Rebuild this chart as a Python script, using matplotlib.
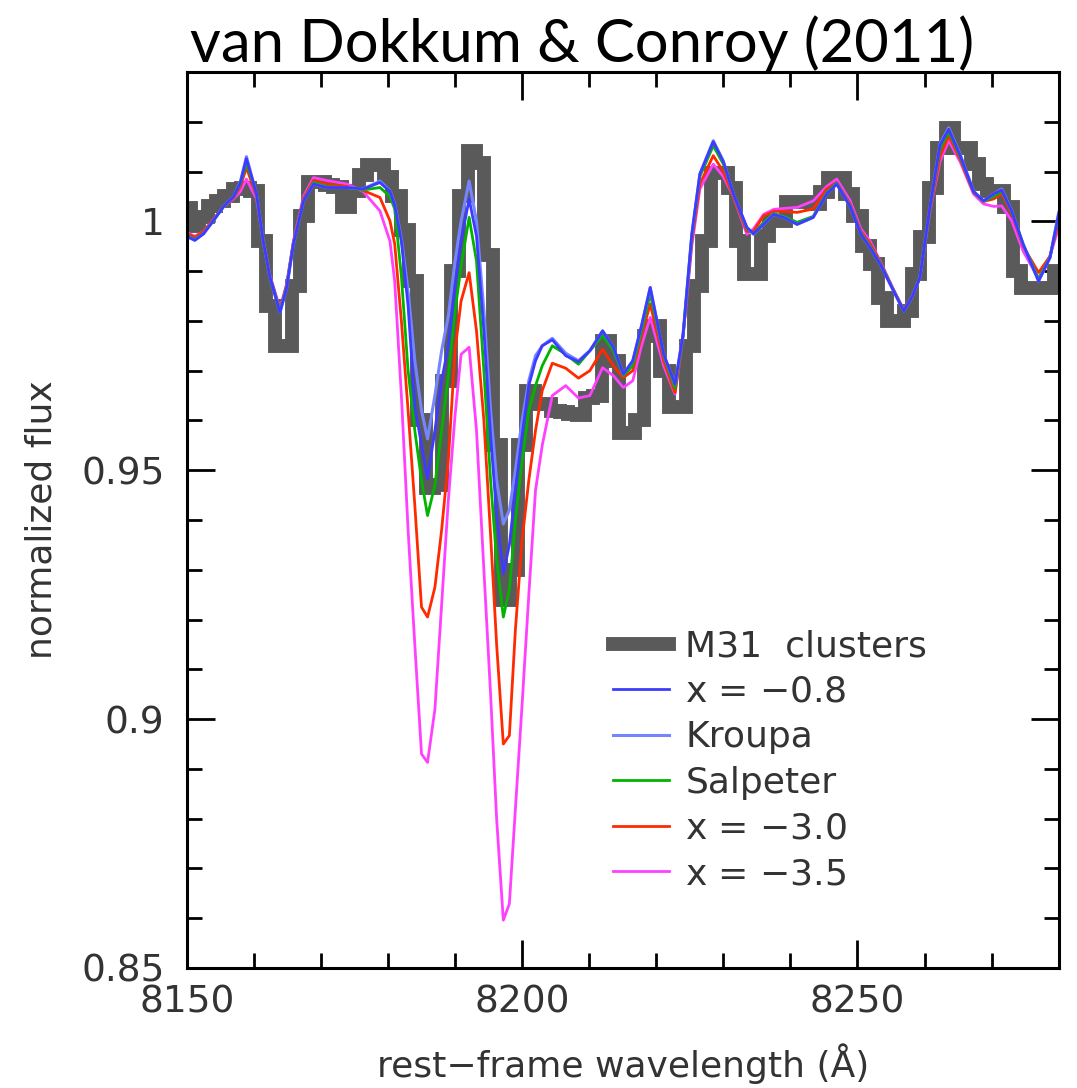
import numpy as np
import matplotlib
matplotlib.use("Agg")
import matplotlib.pyplot as plt
from matplotlib.ticker import MultipleLocator, FuncFormatter

plt.rcParams['font.family'] = ['DejaVu Sans']

# M31 globular cluster spectrum, 1.25 A bins
wave_obs = 8150.0 + 1.25 * np.arange(105)
flux_obs = [
    1.0026, 0.9990, 1.0008, 1.0030, 1.0040, 1.0050, 1.0065, 1.0068, 1.0060, 0.9960,
    0.9830, 0.9750, 0.9750, 0.9870, 1.0010, 1.0080, 1.0080, 1.0073, 1.0070, 1.0028,
    1.0060, 1.0093, 1.0113, 1.0113, 1.0090, 1.0050, 0.9983, 0.9880, 0.9600, 0.9465,
    0.9470, 0.9680, 0.9900, 1.0050, 1.0141, 1.0117, 0.9933, 0.9550, 0.9240, 0.9300,
    0.9550, 0.9660, 0.9633, 0.9633, 0.9620, 0.9616, 0.9613, 0.9610, 0.9646, 0.9650,
    0.9760, 0.9720, 0.9574, 0.9574, 0.9600, 0.9770, 0.9790, 0.9700, 0.9627, 0.9627,
    0.9750, 0.9870, 0.9960, 1.0097, 1.0097, 1.0068, 0.9960, 0.9894, 0.9894, 0.9970,
    1.0001, 1.0001, 1.0038, 1.0038, 1.0038, 1.0035, 1.0058, 1.0088, 1.0088, 1.0055,
    1.0010, 0.9950, 0.9914, 0.9847, 0.9800, 0.9800, 0.9820, 0.9895, 0.9968, 1.0068,
    1.0147, 1.0188, 1.0148, 1.0148, 1.0115, 1.0075, 1.0061, 1.0061, 1.0028, 0.9900,
    0.9866, 0.9866, 0.9866, 0.9866, 0.9900,
]

# model spectra for different IMF slopes
wave_mod = [
    8150.0, 8151.2, 8152.5, 8154.0, 8155.5, 8157.0, 8158.0, 8158.9, 8160.4, 8161.4,
    8162.4, 8163.9, 8164.9, 8165.9, 8167.4, 8168.9, 8170.9, 8173.9, 8176.3, 8178.8,
    8180.3, 8181.0, 8182.0, 8183.0, 8184.0, 8185.0, 8185.9, 8187.0, 8188.0, 8189.0,
    8190.0, 8190.9, 8192.1, 8193.2, 8194.3, 8195.3, 8196.2, 8197.2, 8198.1, 8199.0,
    8200.0, 8201.0, 8202.0, 8203.0, 8204.5, 8206.5, 8208.4, 8210.1, 8212.0, 8213.6,
    8215.1, 8216.5, 8217.8, 8219.1, 8221.1, 8222.8, 8224.0, 8225.3, 8226.5, 8228.5,
    8230.0, 8231.5, 8233.5, 8234.5, 8236.0, 8237.5, 8239.0, 8241.0, 8243.4, 8245.4,
    8246.9, 8248.9, 8250.5, 8251.9, 8253.4, 8255.2, 8256.9, 8258.2, 8259.3, 8260.8,
    8262.3, 8263.6, 8265.3, 8267.3, 8268.8, 8270.3, 8271.5, 8273.0, 8274.7, 8277.0,
    8278.7, 8280.0,
]
flux_kroupa = [
    0.9970, 0.9962, 0.9975, 1.0002, 1.0030, 1.0050, 1.0080, 1.0130, 1.0055, 0.9960,
    0.9888, 0.9817, 0.9867, 0.9954, 1.0041, 1.0075, 1.0068, 1.0068, 1.0065, 1.0081,
    1.0061, 1.0035, 0.9965, 0.9860, 0.9720, 0.9620, 0.9563, 0.9650, 0.9740, 0.9810,
    0.9920, 1.0000, 1.0081, 1.0000, 0.9820, 0.9620, 0.9480, 0.9392, 0.9420, 0.9500,
    0.9600, 0.9680, 0.9730, 0.9750, 0.9765, 0.9735, 0.9720, 0.9740, 0.9780, 0.9747,
    0.9693, 0.9720, 0.9790, 0.9867, 0.9733, 0.9673, 0.9773, 0.9974, 1.0095, 1.0162,
    1.0121, 1.0055, 0.9988, 0.9974, 0.9994, 1.0014, 1.0008, 0.9994, 1.0008, 1.0055,
    1.0075, 1.0030, 0.9975, 0.9947, 0.9914, 0.9865, 0.9820, 0.9850, 0.9887, 1.0028,
    1.0155, 1.0188, 1.0135, 1.0061, 1.0041, 1.0055, 1.0065, 1.0021, 0.9954, 0.9880,
    0.9927, 1.0018,
]
flux_m08 = [
    0.9970, 0.9962, 0.9975, 1.0002, 1.0030, 1.0050, 1.0078, 1.0126, 1.0055, 0.9960,
    0.9888, 0.9817, 0.9867, 0.9954, 1.0041, 1.0075, 1.0068, 1.0068, 1.0065, 1.0078,
    1.0060, 1.0033, 0.9960, 0.9830, 0.9630, 0.9550, 0.9482, 0.9580, 0.9680, 0.9750,
    0.9870, 0.9960, 1.0045, 0.9970, 0.9780, 0.9570, 0.9410, 0.9292, 0.9350, 0.9460,
    0.9570, 0.9670, 0.9720, 0.9750, 0.9762, 0.9730, 0.9718, 0.9740, 0.9780, 0.9747,
    0.9693, 0.9720, 0.9790, 0.9867, 0.9733, 0.9673, 0.9773, 0.9974, 1.0095, 1.0160,
    1.0120, 1.0055, 0.9988, 0.9975, 0.9994, 1.0014, 1.0008, 0.9994, 1.0008, 1.0055,
    1.0075, 1.0030, 0.9975, 0.9947, 0.9914, 0.9865, 0.9820, 0.9850, 0.9887, 1.0028,
    1.0153, 1.0185, 1.0133, 1.0060, 1.0041, 1.0055, 1.0063, 1.0020, 0.9954, 0.9880,
    0.9927, 1.0015,
]
flux_salp = [
    0.9972, 0.9964, 0.9976, 1.0002, 1.0030, 1.0049, 1.0076, 1.0118, 1.0055, 0.9960,
    0.9888, 0.9820, 0.9870, 0.9955, 1.0042, 1.0078, 1.0070, 1.0068, 1.0063, 1.0068,
    1.0050, 1.0025, 0.9890, 0.9700, 0.9580, 0.9480, 0.9409, 0.9470, 0.9580, 0.9690,
    0.9820, 0.9910, 1.0008, 0.9920, 0.9700, 0.9480, 0.9320, 0.9205, 0.9260, 0.9400,
    0.9520, 0.9620, 0.9670, 0.9710, 0.9750, 0.9733, 0.9713, 0.9740, 0.9770, 0.9740,
    0.9690, 0.9710, 0.9780, 0.9854, 0.9730, 0.9665, 0.9770, 0.9970, 1.0090, 1.0152,
    1.0115, 1.0055, 0.9985, 0.9975, 0.9998, 1.0016, 1.0010, 0.9998, 1.0010, 1.0058,
    1.0077, 1.0032, 0.9977, 0.9950, 0.9916, 0.9866, 0.9820, 0.9850, 0.9887, 1.0026,
    1.0145, 1.0180, 1.0130, 1.0060, 1.0040, 1.0050, 1.0060, 1.0020, 0.9954, 0.9885,
    0.9928, 1.0012,
]
flux_x30 = [
    0.9976, 0.9968, 0.9980, 1.0004, 1.0030, 1.0047, 1.0070, 1.0108, 1.0050, 0.9960,
    0.9890, 0.9822, 0.9872, 0.9958, 1.0046, 1.0082, 1.0075, 1.0070, 1.0062, 1.0048,
    1.0001, 0.9955, 0.9800, 0.9620, 0.9430, 0.9225, 0.9205, 0.9265, 0.9380, 0.9520,
    0.9740, 0.9840, 0.9897, 0.9780, 0.9600, 0.9370, 0.9150, 0.8950, 0.8967, 0.9180,
    0.9360, 0.9480, 0.9580, 0.9660, 0.9715, 0.9705, 0.9685, 0.9700, 0.9743, 0.9710,
    0.9686, 0.9700, 0.9770, 0.9834, 0.9720, 0.9656, 0.9770, 0.9960, 1.0075, 1.0132,
    1.0100, 1.0050, 0.9980, 0.9980, 1.0011, 1.0020, 1.0020, 1.0018, 1.0025, 1.0065,
    1.0078, 1.0035, 0.9980, 0.9955, 0.9918, 0.9867, 0.9822, 0.9850, 0.9887, 1.0022,
    1.0130, 1.0172, 1.0125, 1.0058, 1.0040, 1.0045, 1.0055, 1.0015, 0.9950, 0.9897,
    0.9930, 1.0000,
]
flux_x35 = [
    0.9978, 0.9970, 0.9980, 1.0004, 1.0030, 1.0045, 1.0060, 1.0085, 1.0045, 0.9962,
    0.9892, 0.9825, 0.9875, 0.9960, 1.0050, 1.0088, 1.0082, 1.0075, 1.0060, 1.0021,
    0.9960, 0.9880, 0.9650, 0.9380, 0.9150, 0.8930, 0.8913, 0.9020, 0.9230, 0.9440,
    0.9610, 0.9733, 0.9747, 0.9580, 0.9300, 0.9050, 0.8800, 0.8596, 0.8629, 0.8820,
    0.9030, 0.9250, 0.9460, 0.9550, 0.9650, 0.9670, 0.9645, 0.9650, 0.9706, 0.9690,
    0.9666, 0.9680, 0.9750, 0.9807, 0.9710, 0.9653, 0.9770, 0.9950, 1.0065, 1.0115,
    1.0090, 1.0050, 0.9974, 0.9985, 1.0014, 1.0024, 1.0026, 1.0028, 1.0041, 1.0070,
    1.0085, 1.0042, 0.9985, 0.9960, 0.9920, 0.9868, 0.9822, 0.9850, 0.9887, 1.0020,
    1.0120, 1.0162, 1.0120, 1.0055, 1.0035, 1.0030, 1.0031, 1.0001, 0.9940, 0.9884,
    0.9930, 0.9988,
]

fig = plt.figure(figsize=(10.77, 10.88), dpi=100)
ax = fig.add_axes([0.1734, 0.1103, 0.8096, 0.8235])

ax.step(wave_obs, flux_obs, where='mid', color='#5a5a5a', lw=10,
        solid_joinstyle='miter', label='M31  clusters')
ax.plot(wave_mod, flux_x35, color='#ff40ff', lw=2, label=r'x = $-$3.5')
ax.plot(wave_mod, flux_x30, color='#ff2a00', lw=2, label=r'x = $-$3.0')
ax.plot(wave_mod, flux_salp, color='#00b400', lw=2, label='Salpeter')
ax.plot(wave_mod, flux_kroupa, color='#7585ff', lw=2.2, label='Kroupa')
ax.plot(wave_mod, flux_m08, color='#3c3cff', lw=2, label=r'x = $-$0.8')

ax.set_xlim(8150, 8280)
ax.set_ylim(0.85, 1.03)

ax.xaxis.set_major_locator(MultipleLocator(50))
ax.xaxis.set_minor_locator(MultipleLocator(10))
ax.yaxis.set_major_locator(MultipleLocator(0.05))
ax.yaxis.set_minor_locator(MultipleLocator(0.01))
ax.yaxis.set_major_formatter(FuncFormatter(lambda v, p: '%g' % round(v, 2)))

ax.tick_params(which='both', direction='in', top=True, right=True,
               width=2, colors='black', labelcolor='#333333', labelsize=27)
ax.tick_params(which='major', length=20)
ax.tick_params(which='minor', length=11)
ax.tick_params(axis='y', pad=16)
ax.tick_params(axis='x', pad=12)
for s in ax.spines.values():
    s.set_linewidth(2.2)

ax.set_xlabel('rest\u2212frame wavelength (\u00c5)', fontsize=26, color='#333333', labelpad=16)
ax.set_ylabel('normalized flux', fontsize=26, color='#333333', labelpad=16)

# legend in the lower right, same order as the paper
h, l = ax.get_legend_handles_labels()
order = [0, 5, 4, 3, 2, 1]
leg = ax.legend([h[i] for i in order], [l[i] for i in order],
                loc='upper left', bbox_to_anchor=(0.489, 0.378), frameon=False,
                fontsize=26, handlelength=1.55, handletextpad=0.45,
                labelspacing=0.32, borderpad=0, borderaxespad=0)
for t in leg.get_texts():
    t.set_color('#333333')

fig.text(190 / 1077, 1 - 62 / 1088, 'van Dokkum & Conroy (2011)', fontsize=43,
         family='Lato', color='black', ha='left', va='baseline')

fig.savefig('out.png', dpi=100)
